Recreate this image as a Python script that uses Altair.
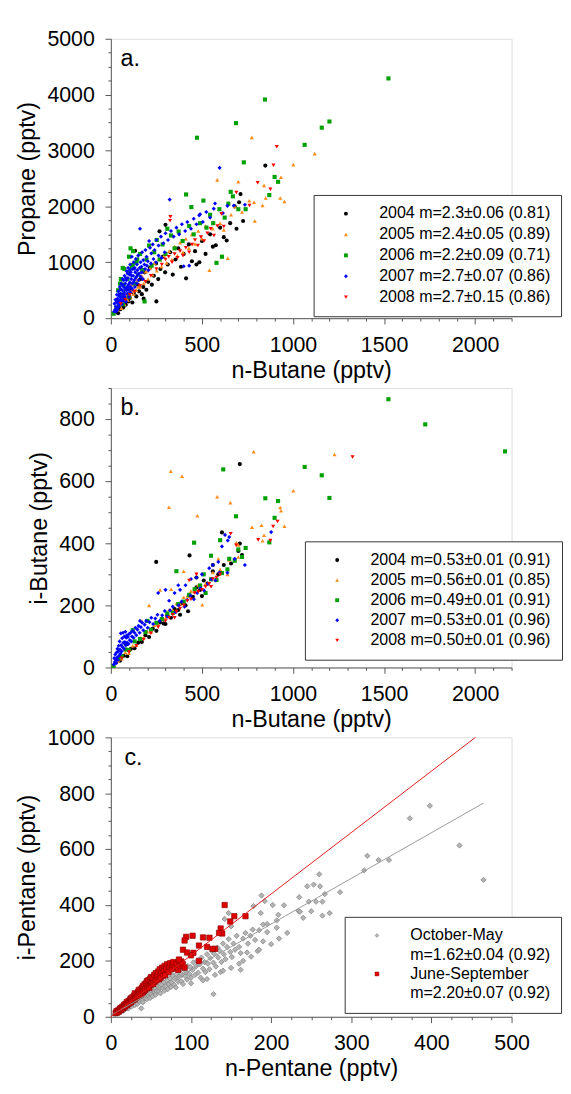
import altair as alt
import pandas as pd

FONT = "Liberation Sans"

# ---------------- data ----------------
years = ["2004", "2005", "2006", "2007", "2008"]
year_colors = ["#000000", "#ff8c1a", "#00a000", "#0000ff", "#ff0000"]
year_shapes = ["circle", "triangle-up", "square", "diamond", "triangle-down"]

a_labels = ["2004 m=2.3±0.06 (0.81)", "2005 m=2.4±0.05 (0.89)", "2006 m=2.2±0.09 (0.71)",
            "2007 m=2.7±0.07 (0.86)", "2008 m=2.7±0.15 (0.86)"]
b_labels = ["2004 m=0.53±0.01 (0.91)", "2005 m=0.56±0.01 (0.85)", "2006 m=0.49±0.01 (0.91)",
            "2007 m=0.53±0.01 (0.96)", "2008 m=0.50±0.01 (0.96)"]

# panel a: n-butane (x) vs propane (y), pptv
a_2004 = [(28,120),(40,90),(45,210),(52,160),(60,260),(68,190),(75,330),(82,240),(90,410),(96,300),
          (105,360),(112,520),(118,280),(126,450),(133,1206),(140,390),(148,600),(155,480),(163,700),
          (170,430),(178,560),(186,820),(195,510),(205,650),(214,900),(225,600),(236,760),(248,980),
          (260,700),(272,880),(285,1100),(298,820),(300,1670),(267,1554),(312,960),(326,1180),(340,780),
          (355,1050),(370,1250),(385,920),(400,1150),(413,713),(428,1320),(445,1020),(462,1200),(470,960),
          (486,1000),(500,1380),(520,1150),(545,1500),(560,1280),(576,1304),(600,1620),(620,1450),
          (636,1391),(655,1700),(680,2000),(704,2075),(712,2220),(726,1739),(848,2730),(690,1600),
          (250,300),(180,350)]
a_2005 = [(38,150),(48,230),(58,180),(66,300),(75,250),(84,380),(92,320),(100,450),(108,370),(116,520),
          (124,430),(132,600),(140,500),(150,680),(160,560),(170,760),(180,620),(192,830),(204,700),
          (216,900),(228,780),(240,990),(252,850),(265,1060),(278,920),(292,1120),(306,990),(320,1200),
          (335,1050),(350,1280),(365,1120),(380,1350),(396,1180),(412,1420),(428,1250),(445,1500),
          (462,1330),(480,1560),(500,1420),(520,1650),(541,858),(560,1600),(584,2475),(600,1700),
          (620,1580),(642,1072),(660,1850),(680,2000),(700,2440),(720,1900),(774,3235),(786,2075),
          (790,1739),(833,2017),(841,2377),(930,2150),(934,2522),(953,2087),(1002,2748),(1119,2945),
          (760,2100),(850,2150),(60,250),(80,420),(120,480),(150,560),(180,700),(200,850),(140,700),
          (110,600)]
a_2006 = [(15,80),(30,170),(42,300),(50,620),(58,420),(66,250),(74,880),(82,520),(90,700),(100,380),
          (108,1250),(115,900),(122,1200),(130,620),(140,1000),(150,780),(160,1150),(172,860),(185,300),
          (196,1050),(210,1300),(224,940),(238,1180),(252,1400),(268,1050),(284,1320),(300,1150),
          (310,1600),(330,1480),(350,1250),(372,1550),(394,1380),(413,2214),(430,1650),(442,1988),
          (455,1500),(473,3229),(490,1700),(508,2104),(525,1620),(545,1850),(562,1700),(580,990),
          (596,1950),(610,1100),(625,1800),(645,2050),(658,2261),(670,2180),(687,3490),(700,1950),
          (730,2788),(846,3913),(870,2203),(899,2527),(918,2440),(1064,3101),(1158,3409),(1200,3519),
          (1524,4290),(740,1950),(40,500),(55,700),(70,600),(95,820),(120,950),(145,1050),(65,900),
          (100,1100)]
a_2007 = [(18,120),(20,260),(23,150),(25,330),(27,210),(29,120),(31,290),(33,420),(35,180),(37,350),
          (39,260),(41,480),(43,300),(45,210),(47,390),(49,560),(51,270),(53,440),(55,340),(57,620),
          (59,380),(61,250),(63,500),(65,700),(67,420),(69,320),(71,560),(73,460),(75,760),(77,380),
          (79,620),(81,520),(83,300),(85,680),(87,840),(89,560),(91,440),(93,720),(95,900),(97,600),
          (99,500),(102,780),(104,640),(106,960),(108,560),(110,820),(112,700),(115,1100),(117,620),
          (119,880),(122,760),(125,1000),(128,680),(131,900),(134,820),(137,1060),(140,740),(143,960),
          (146,860),(150,1120),(155,800),(160,1600),(163,1000),(168,920),(172,1180),(178,1040),(184,960),
          (190,1220),(196,1100),(203,1020),(210,1380),(215,1260),(222,1160),(230,1320),(240,1220),
          (250,1400),(262,1300),(275,1460),(288,1340),(300,1520),(314,1400),(323,2122),(330,1560),
          (345,1460),(360,1620),(375,1500),(390,1680),(400,930),(408,1560),(420,1720),(430,940),
          (440,1600),(455,1780),(470,1680),(485,1840),(490,1861),(505,1720),(524,1900),(545,1800),
          (565,1960),(572,2052),(597,2690),(615,1880),(640,2010),(675,2017),(736,2029),
          (32,330),(36,150),(44,420),(46,260),(54,520),(58,300),(62,600),(66,380),(70,680),(74,420),
          (78,300),(82,720),(86,500),(92,800),(96,540),(100,380),(104,860),(108,460),(114,760),(118,520),
          (124,640),(128,880),(132,560),(136,720),(142,620),(148,780),(152,680),(158,900),(164,740),
          (170,820),(176,700),(188,880),(198,940),(206,860),(220,980),(234,1060),(248,1000),(262,1120),
          (278,1080),(296,1180)]
a_2008 = [(55,260),(80,330),(105,420),(130,480),(160,580),(190,650),(220,760),(250,880),(280,960),
          (300,1050),(318,1100),(336,1000),(350,1150),(366,1080),(380,1200),(396,1120),(412,1260),
          (430,1180),(446,1320),(462,1400),(478,1300),(495,1450),(512,1380),(530,1520),(548,1600),
          (566,1480),(585,1650),(607,1867),(620,1640),(689,2249),(761,2017),(806,2423),(876,2307),
          (893,2736),(911,3067),(327,1814),(325,1745)]

# panel b: n-butane (x) vs i-butane (y), pptv
b_2004 = [(30,18),(50,22),(70,38),(90,36),(110,60),(130,62),(150,80),(170,82),(190,104),(210,98),
          (230,125),(250,118),(270,145),(290,142),(310,168),(330,160),(350,188),(370,185),(390,208),
          (410,200),(430,232),(450,228),(470,258),(490,250),(510,280),(530,270),(560,310),(590,300),
          (620,330),(660,335),(700,375),(720,362),(708,655),(249,340),(432,361),(424,181),(708,399),
          (85,75),(500,230),(470,290),(560,330),(610,435),(380,170),(300,140)]
b_2005 = [(40,22),(60,28),(80,48),(100,46),(120,70),(140,72),(160,95),(180,96),(200,116),(220,114),
          (240,136),(260,140),(280,155),(300,160),(320,186),(340,184),(360,206),(380,204),(400,226),
          (420,230),(440,246),(460,244),(480,266),(520,270),(560,306),(600,316),(650,346),(700,356),
          (740,386),(784,695),(1228,686),(329,632),(391,616),(1002,569),(584,550),(656,531),(319,516),
          (475,489),(930,515),(934,505),(775,452),(827,458),(841,426),(953,455),(833,408),(689,402),
          (502,202),(331,252),(270,250),(210,200),(400,310),(590,350),(640,300),(700,395),(170,150)]
b_2006 = [(15,5),(40,28),(60,36),(80,58),(100,56),(130,84),(160,92),(190,114),(220,122),(250,144),
          (280,156),(310,174),(340,176),(370,204),(400,212),(430,234),(460,252),(490,264),(520,240),
          (550,284),(580,282),(610,304),(640,316),(680,344),(720,356),(740,385),(1524,864),(1726,783),
          (2164,696),(1064,646),(1158,619),(1200,546),(617,638),(848,545),(918,536),(687,487),(899,482),
          (457,402),(870,403),(360,310),(550,360),(600,410),(650,350),(510,300),(200,150),(120,120),
          (700,380)]
b_2007 = [(16,10),(19,30),(22,18),(24,42),(27,26),(29,14),(31,48),(34,32),(36,60),(38,24),(41,52),
          (43,70),(45,38),(48,84),(50,58),(52,44),(55,110),(57,72),(59,52),(62,94),(64,66),(67,112),
          (69,80),(72,60),(74,100),(77,82),(80,115),(82,72),(85,96),(88,104),(90,80),(94,98),(97,76),
          (100,108),(104,88),(108,112),(112,84),(116,100),(120,118),(125,96),(130,112),(135,128),
          (140,104),(146,122),(152,134),(158,112),(165,130),(172,144),(178,120),(186,138),(194,150),
          (202,128),(212,146),(222,160),(232,140),(244,158),(256,170),(268,150),(282,168),(296,182),
          (310,164),(325,184),(340,196),(356,178),(372,200),(388,212),(404,196),(420,218),(438,232),
          (456,220),(474,240),(492,256),(512,248),(532,270),(552,284),(574,280),(596,306),(627,427),
          (642,409),(736,330),(880,436),(370,265),(680,350),(640,305),(590,340),(610,390),(650,420),
          (260,240),(300,250),(160,150),(320,215),(350,240),(380,250),(410,265),(440,285),(470,290),
          (500,300),(540,320),(560,330)]
b_2008 = [(60,30),(100,50),(140,70),(180,90),(220,110),(260,130),(300,150),(320,160),(340,170),
          (360,180),(380,190),(400,200),(420,215),(440,220),(460,240),(480,245),(500,250),(520,260),
          (540,270),(560,285),(580,290),(600,300),(1327,678),(915,470),(891,454),(809,411),(876,409),
          (658,431),(688,394),(470,300),(430,280),(350,160),(550,260)]

# panel c: n-pentane (x) vs i-pentane (y), pptv
season_labels = ["October-May", "m=1.62±0.04 (0.92)", "June-September", "m=2.20±0.07 (0.92)"]
season_fill = ["#b4b4b4", "transparent", "#e00000", "transparent"]
season_stroke = ["#7c7c7c", "transparent", "#900000", "transparent"]
season_shapes = ["diamond", "circle", "square", "circle"]

c_octmay = [(5,8),(7,13),(8,11),(10,17),(11,20),(12,16),(14,23),(15,29),(16,22),(18,27),(19,34),
            (20,31),(22,30),(23,43),(24,38),(26,37),(27,50),(28,45),(30,42),(31,57),(32,52),(33,46),
            (35,63),(36,54),(37,70),(38,30),(39,60),(40,52),(41,74),(43,66),(44,84),(45,63),(46,78),
            (48,84),(49,67),(50,95),(51,80),(52,73),(54,91),(55,104),(56,79),(57,92),(58,110),(60,90),
            (61,104),(62,84),(63,115),(65,101),(66,124),(67,94),(68,109),(70,130),(71,99),(72,118),
            (74,137),(75,107),(76,122),(77,148),(79,115),(80,136),(81,105),(82,152),(84,126),(85,143),
            (86,164),(88,127),(89,150),(90,117),(91,172),(93,145),(94,160),(95,133),(96,181),(98,153),
            (99,178),(100,140),(102,168),(103,195),(105,150),(106,180),(108,200),(109,158),(111,188),
            (112,140),(113,212),(115,172),(117,196),(118,160),(120,224),(121,190),(123,170),(124,210),
            (126,236),(128,194),(129,225),(131,180),(133,248),(134,212),(136,236),(138,196),(140,262),
            (141,224),(143,206),(145,250),(147,278),(149,232),(151,214),(153,262),(155,240),(157,290),
            (160,250),(162,228),(165,280),(168,300),(171,262),(174,290),(177,312),(180,275),(185,310),
            (190,330),(128,81),(137,160),(142,350),(147,371),(150,324),(162,168),(178,396),(183,235),
            (187,371),(188,434),(192,414),(195,303),(195,332),(202,400),(207,319),(207,345),(209,365),
            (216,399),(234,379),(235,428),(236,376),(240,354),(245,467),(247,412),(250,378),(253,473),
            (256,412),(260,510),(261,467),(264,362),(264,412),(267,439),(273,371),(286,446),(316,524),
            (320,576),(334,561),(347,561),(373,710),(398,755),(435,613),(465,490),
            (100,120),(115,130),(130,150),(150,175),(165,200),(175,215),(120,135),(140,165),(160,190),
            (185,240),(200,260),(210,280),(220,300),(170,230),(190,270)]
c_junsep = [(6,14),(7,20),(8,15),(9,23),(10,19),(11,27),(12,24),(12,31),(13,26),(14,35),(15,30),
            (16,40),(17,34),(17,44),(18,38),(19,47),(20,41),(20,53),(21,45),(22,56),(23,48),(24,62),
            (25,52),(25,66),(26,58),(27,70),(28,60),(29,76),(30,63),(30,84),(31,68),(32,79),(33,72),
            (34,90),(35,75),(35,96),(36,82),(37,98),(38,80),(39,104),(40,86),(40,110),(41,92),(42,116),
            (43,96),(44,120),(45,102),(45,128),(46,108),(47,131),(48,104),(49,136),(50,114),(50,142),
            (51,120),(52,140),(53,118),(54,150),(55,126),(56,156),(57,130),(58,148),(59,162),(60,134),
            (61,170),(62,140),(63,158),(64,176),(65,146),(66,168),(67,182),(68,150),(69,172),(70,188),
            (72,160),(73,180),(74,192),(76,170),(77,186),(78,196),(80,176),(82,190),(84,168),(85,195),
            (87,182),(88,198),(90,188),(92,176),(142,400),(149,341),(154,360),(168,360),(137,316),
            (123,283),(115,284),(94,286),(102,290),(92,273),(130,243),(127,243),(90,240),(103,229),
            (139,298),(110,255),(120,250),(135,300),(100,220),(95,230),(110,200),(85,205)]

gray_fit = [(3, 10), (465, 765)]
red_fit = [(0, 0), (455, 1000)]


# ---------------- helpers ----------------
def to_frame(series, labels):
    rows = []
    for lab, pts in zip(labels, series):
        for x, y in pts:
            rows.append({"x": x, "y": y, "s": lab})
    return pd.DataFrame(rows)


def make_axis(title, major, vals, label_pad, title_pad):
    return alt.Axis(
        title=title, values=vals, format="d",
        labelExpr=f"datum.value % {major} === 0 ? datum.label : ''",
        tickSize={"condition": {"test": f"datum.value % {major} === 0", "value": 6}, "value": 3},
        labelFlush=False, labelOverlap=False, grid=False,
        domainColor="#555555", tickColor="#555555", labelColor="#000000", titleColor="#000000",
        labelFont=FONT, titleFont=FONT, labelFontSize=22, titleFontSize=24,
        titleFontWeight="normal", labelPadding=label_pad, titlePadding=title_pad,
    )


def x_axis(title, major, vals):
    return make_axis(title, major, vals, 11, 4)


def y_axis(title, major, vals):
    return make_axis(title, major, vals, 11, 8)


def make_legend(lx, ly, row_pad):
    return alt.Legend(
        title=None, orient="none", legendX=lx, legendY=ly, padding=11,
        rowPadding=row_pad, labelFont=FONT, labelFontSize=16.5, labelColor="#000000",
        labelLimit=400, symbolSize=16, symbolStrokeWidth=0.5, symbolOffset=14,
        labelOffset=26, strokeColor="#333333", fillColor="#ffffff",
    )


def letter_layer(letter, dx, dy):
    return alt.Chart(pd.DataFrame({"t": [letter]})).mark_text(
        align="left", baseline="alphabetic", font=FONT, fontSize=24, color="#000000"
    ).encode(x=alt.value(dx), y=alt.value(dy), text="t:N")


W, H = 413, 288
xs_ab = list(range(0, 2201, 100))


def year_panel(series, labels, ytitle, ymax, ymajor, ystep, lx, ly, row_pad, letter):
    df = to_frame(series, labels)
    leg = make_legend(lx, ly, row_pad)
    pts = alt.Chart(df).mark_point(filled=True, size=18, opacity=1).encode(
        x=alt.X("x:Q", scale=alt.Scale(domain=[0, 2200], nice=False),
                axis=x_axis("n-Butane (pptv)", 500, xs_ab)),
        y=alt.Y("y:Q", scale=alt.Scale(domain=[0, ymax], nice=False),
                axis=y_axis(ytitle, ymajor, list(range(0, ymax + 1, ystep)))),
        color=alt.Color("s:N", scale=alt.Scale(domain=labels, range=year_colors), legend=leg),
        shape=alt.Shape("s:N", scale=alt.Scale(domain=labels, range=year_shapes), legend=leg),
    )
    return alt.layer(pts, letter_layer(letter, 10, 28)).properties(width=W, height=H)


panel_a = year_panel([a_2004, a_2005, a_2006, a_2007, a_2008], a_labels, "Propane (pptv)",
                     5000, 1000, 250, 209, 161, 4.5, "a.")
panel_b = year_panel([b_2004, b_2005, b_2006, b_2007, b_2008], b_labels, "i-Butane (pptv)",
                     900, 200, 50, 200, 158, 3.7, "b.")

# panel c
df_c = to_frame([c_octmay, c_junsep], ["October-May", "June-September"])
xc_axis = x_axis("n-Pentane (pptv)", 100, list(range(0, 501, 25)))
yc_axis = y_axis("i-Pentane (pptv)", 200, list(range(0, 1001, 50)))
xc = dict(scale=alt.Scale(domain=[0, 500], nice=False), axis=xc_axis)
yc = dict(scale=alt.Scale(domain=[0, 1000], nice=False), axis=yc_axis)
leg_c = make_legend(241, 185, 2.8)

pts_c = alt.Chart(df_c).mark_point(filled=True, size=30, opacity=1, strokeWidth=0.7).encode(
    x=alt.X("x:Q", **xc),
    y=alt.Y("y:Q", **yc),
    fill=alt.Fill("s:N", scale=alt.Scale(domain=season_labels, range=season_fill), legend=leg_c),
    stroke=alt.Stroke("s:N", scale=alt.Scale(domain=season_labels, range=season_stroke), legend=leg_c),
    shape=alt.Shape("s:N", scale=alt.Scale(domain=season_labels, range=season_shapes), legend=leg_c),
)
line_gray = alt.Chart(pd.DataFrame(gray_fit, columns=["x", "y"])).mark_line(
    color="#9a9a9a", strokeWidth=1).encode(x=alt.X("x:Q", **xc), y=alt.Y("y:Q", **yc))
line_red = alt.Chart(pd.DataFrame(red_fit, columns=["x", "y"])).mark_line(
    color="#e31a1a", strokeWidth=1).encode(x=alt.X("x:Q", **xc), y=alt.Y("y:Q", **yc))
panel_c = alt.layer(pts_c, line_gray, line_red, letter_layer("c.", 14, 29)).properties(width=W, height=H)

chart = alt.vconcat(panel_a, panel_b, panel_c, spacing=-7).resolve_scale(
    color="independent", shape="independent", fill="independent", stroke="independent"
).properties(
    padding={"left": 7, "top": 3, "right": 0, "bottom": 0}
).configure_view(stroke="#555555", strokeWidth=1).configure(font=FONT)

chart.save("out.html", embed_options={"renderer": "svg", "actions": False})
